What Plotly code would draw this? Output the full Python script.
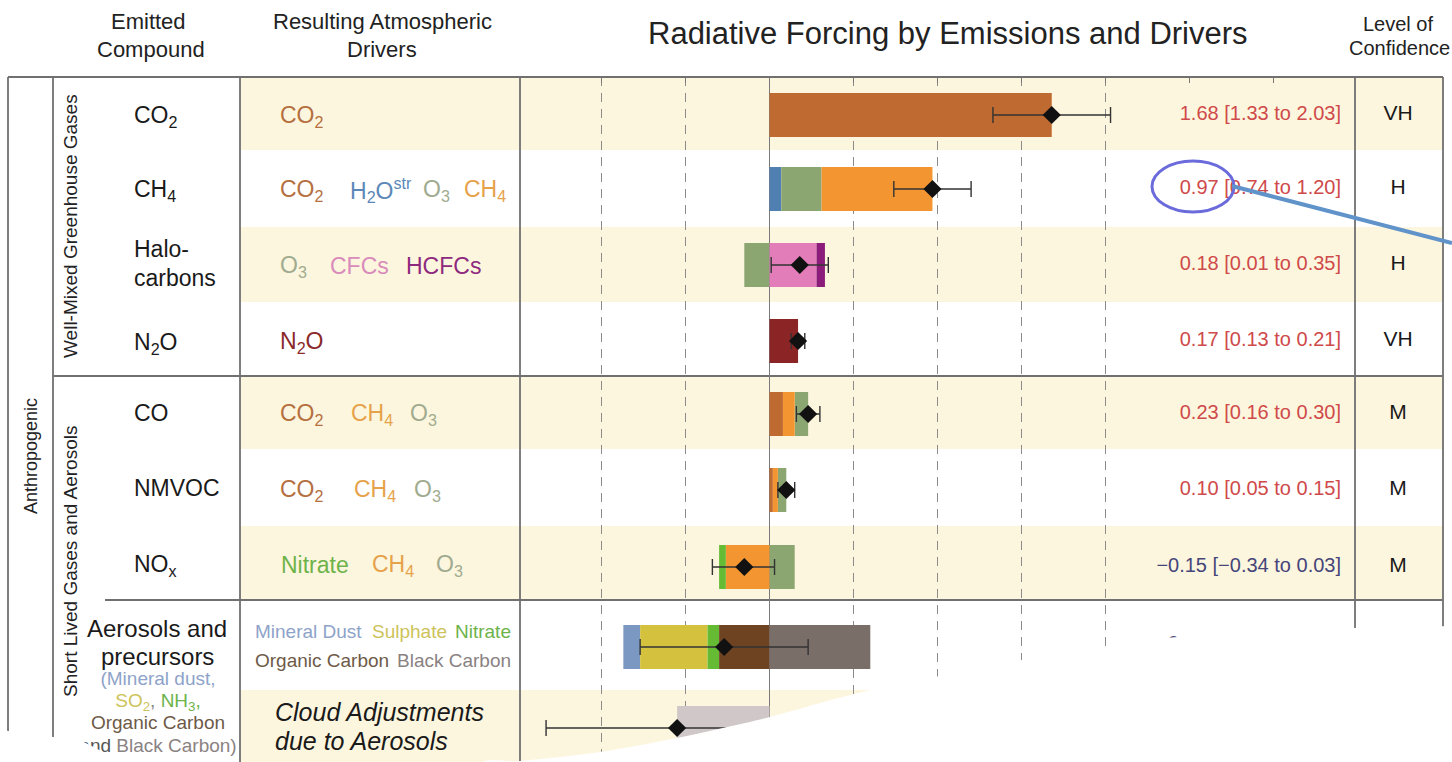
import plotly.graph_objects as go

W, H = 1452, 762
FONT = "Liberation Sans, Arial, sans-serif"

# ---------------- data ----------------
compounds = ["CO2", "CH4", "Halocarbons", "N2O", "CO", "NMVOC", "NOx", "Aerosols", "Cloud"]
best = [1.68, 0.97, 0.18, 0.17, 0.23, 0.10, -0.15, -0.27, -0.55]
low = [1.33, 0.74, 0.01, 0.13, 0.16, 0.05, -0.34, -0.77, -1.33]
high = [2.03, 1.20, 0.35, 0.21, 0.30, 0.15, 0.03, 0.23, -0.06]
confidence = ["VH", "H", "H", "VH", "M", "M", "M", "H", "L"]

# forcing contribution of each resulting driver, per emitted compound (W m-2)
drv_co2 = [1.68, 0.00, 0.00, 0.00, 0.08, 0.02, 0.00, 0.00, 0.00]
drv_h2o = [0.00, 0.07, 0.00, 0.00, 0.00, 0.00, 0.00, 0.00, 0.00]
drv_o3 = [0.00, 0.24, -0.15, 0.00, 0.08, 0.05, 0.15, 0.00, 0.00]
drv_ch4 = [0.00, 0.66, 0.00, 0.00, 0.07, 0.03, -0.26, 0.00, 0.00]
drv_cfc = [0.00, 0.00, 0.28, 0.00, 0.00, 0.00, 0.00, 0.00, 0.00]
drv_hcfc = [0.00, 0.00, 0.05, 0.00, 0.00, 0.00, 0.00, 0.00, 0.00]
drv_n2o = [0.00, 0.00, 0.00, 0.17, 0.00, 0.00, 0.00, 0.00, 0.00]
drv_nitrate = [0.00, 0.00, 0.00, 0.00, 0.00, 0.00, -0.04, -0.07, 0.00]
drv_dust = [0.00, 0.00, 0.00, 0.00, 0.00, 0.00, 0.00, -0.10, 0.00]
drv_sulphate = [0.00, 0.00, 0.00, 0.00, 0.00, 0.00, 0.00, -0.40, 0.00]
drv_oc = [0.00, 0.00, 0.00, 0.00, 0.00, 0.00, 0.00, -0.30, 0.00]
drv_bc = [0.00, 0.00, 0.00, 0.00, 0.00, 0.00, 0.00, 0.60, 0.00]
drv_cloud = [0.00, 0.00, 0.00, 0.00, 0.00, 0.00, 0.00, 0.00, -0.55]

contrib = {
    "co2": drv_co2, "h2o": drv_h2o, "o3": drv_o3, "ch4": drv_ch4,
    "cfc": drv_cfc, "hcfc": drv_hcfc, "n2o": drv_n2o, "nitrate": drv_nitrate,
    "dust": drv_dust, "sulphate": drv_sulphate, "oc": drv_oc, "bc": drv_bc,
    "cloud": drv_cloud,
}

# ---------------- styling / layout ----------------
bar_colors = {
    "co2": "#bf6a30", "h2o": "#5080b2", "o3": "#8ca672", "ch4": "#f39632",
    "cfc": "#e27db9", "hcfc": "#8b1c7c", "n2o": "#8b2424", "nitrate": "#66bb35",
    "dust": "#7b98c2", "sulphate": "#d4c23f", "oc": "#6e4322", "bc": "#7a6e68",
    "cloud": "#d0c8c8",
}
# stacking order, from the zero line outward, for every row
stack_order = [
    ["co2"],
    ["co2", "h2o", "o3", "ch4"],
    ["o3", "cfc", "hcfc"],
    ["n2o"],
    ["co2", "ch4", "o3"],
    ["co2", "ch4", "o3"],
    ["ch4", "nitrate", "o3"],
    ["oc", "nitrate", "sulphate", "dust", "bc"],
    ["cloud"],
]
row_px = [115, 189, 265, 341, 414, 490, 567, 647, 728]   # row centres (pixels)
BAR_H = 44

# x scale: zero at 769.5 px, 168 px per W m-2
X0, KX = 769.5, 168.0
PLOT_L, PLOT_R, TABLE_TOP = 520, 1355, 77


def px(x):
    return x / W


def py(y):
    return 1 - y / H


# stacked bar bases
bases = {k: [None] * len(compounds) for k in contrib}
for i, order in enumerate(stack_order):
    pos, neg = 0.0, 0.0
    for d in order:
        v = contrib[d][i]
        if v >= 0:
            bases[d][i] = pos
            pos += v
        else:
            bases[d][i] = neg
            neg += v

fig = go.Figure()

for d, vals in contrib.items():
    xs, ys, bs = [], [], []
    for i, v in enumerate(vals):
        if v != 0:
            xs.append(v)
            ys.append(row_px[i])
            bs.append(bases[d][i])
    fig.add_trace(go.Bar(
        x=xs, y=ys, base=bs, orientation="h", width=BAR_H,
        marker=dict(color=bar_colors[d], line=dict(width=0)),
        hoverinfo="skip", showlegend=False,
    ))

# best estimate and uncertainty range
fig.add_trace(go.Scatter(
    x=best, y=row_px, mode="markers",
    marker=dict(symbol="diamond", size=14, color="#111111"),
    error_x=dict(type="data", symmetric=False,
                 array=[h - b for h, b in zip(high, best)],
                 arrayminus=[b - l for b, l in zip(best, low)],
                 color="#333333", thickness=1.4, width=8),
    hoverinfo="skip", showlegend=False,
))

# ---------------- right-hand text columns (overlay axes in pixels) ----------------
def fmt(v):
    s = f"{v:.2f}"
    return s.replace("-", "\u2212")


val_text = [f"{fmt(b)} [{fmt(l)} to {fmt(h)}]" for b, l, h in zip(best, low, high)]
val_color = ["#cf4a4a" if b > 0 else "#45457a" for b in best]

fig.add_trace(go.Scatter(
    x=[1341] * len(val_text), y=[115, 189, 265, 341, 414, 490, 567, 645, 728],
    mode="text", text=val_text,
    textposition="middle left",
    textfont=dict(family=FONT, size=20, color=val_color),
    xaxis="x2", yaxis="y2", hoverinfo="skip", showlegend=False,
))
fig.add_trace(go.Scatter(
    x=[1398] * len(confidence), y=row_px, mode="text", text=confidence,
    textposition="middle center",
    textfont=dict(family=FONT, size=21, color="#1a1a1a"),
    xaxis="x2", yaxis="y2", hoverinfo="skip", showlegend=False,
))

precursor_lines = [
    '<span style="color:#8ea3c9">(Mineral dust,</span>',
    '<span style="color:#cdc35a">SO<sub>2</sub></span><span style="color:#888">, </span>'
    '<span style="color:#6db34a">NH<sub>3</sub>,</span>',
    '<span style="color:#6e5a48">Organic Carbon</span>',
    '<span style="color:#555">and </span><span style="color:#8a8282">Black Carbon)</span>',
]
fig.add_trace(go.Scatter(
    x=[158] * 4, y=[680, 702, 724, 747], mode="text", text=precursor_lines,
    textposition="middle center",
    textfont=dict(family=FONT, size=19, color="#555"),
    xaxis="x2", yaxis="y2", hoverinfo="skip", showlegend=False,
))

# folded-away page corners
curl_right = [(480, 800), (480, 764), (520, 761), (600, 752), (677, 738), (727, 727),
              (770, 717), (854, 694), (935, 677), (1022, 660), (1105, 647),
              (1167, 638), (1260, 631), (1353, 628), (1452, 626), (1500, 626),
              (1500, 800)]
curl_left = [(-20, 800), (-20, 723), (8, 731), (53, 737), (78, 739), (92, 746),
             (105, 753), (116, 762), (120, 800)]
for poly, shape in ((curl_right, "spline"), (curl_left, "linear")):
    fig.add_trace(go.Scatter(
        x=[p[0] for p in poly], y=[p[1] for p in poly], mode="lines",
        fill="toself", fillcolor="#ffffff",
        line=dict(width=0, color="#ffffff", shape=shape),
        xaxis="x2", yaxis="y2", hoverinfo="skip", showlegend=False,
    ))

# ---------------- table background and rules ----------------
shapes = []
for y0, y1 in [(77, 150), (227, 302), (376, 449), (526, 600), (690, 770)]:
    shapes.append(dict(type="rect", xref="paper", yref="paper", layer="below",
                       x0=px(240), x1=px(1443), y0=py(y1), y1=py(y0),
                       fillcolor="#fdf6de", line=dict(width=0)))

RULE = dict(color="#707070", width=1.8)
for x0, x1, y in [(8, 1443, 77), (53, 1443, 376), (105, 1443, 600)]:
    shapes.append(dict(type="line", xref="paper", yref="paper", layer="below",
                       x0=px(x0), x1=px(x1), y0=py(y), y1=py(y), line=RULE))
for x in [8, 53, 240, 520, 1355, 1443]:
    shapes.append(dict(type="line", xref="paper", yref="paper", layer="below",
                       x0=px(x), x1=px(x), y0=py(77), y1=py(770), line=RULE))

# highlight ring and pointer
shapes.append(dict(type="circle", xref="paper", yref="paper", layer="above",
                   x0=px(1152), x1=px(1234), y0=py(212), y1=py(161),
                   line=dict(color="#6b6bdc", width=3)))
shapes.append(dict(type="line", xref="paper", yref="paper", layer="above",
                   x0=px(1232), y0=py(186), x1=px(1452), y1=py(243),
                   line=dict(color="#5f93c9", width=4)))

# ---------------- annotations ----------------
ann = []


def label(text, x, y, size, color="#1a1a1a", xanchor="left", angle=0):
    ann.append(dict(text=text, x=px(x), y=py(y), xref="paper", yref="paper",
                    xanchor=xanchor, yanchor="middle", showarrow=False,
                    textangle=angle, font=dict(family=FONT, size=size, color=color)))


label("Radiative Forcing by Emissions and Drivers", 948, 34, 31, "#222", "center")
label("Emitted", 148, 22, 22, "#222", "center")
label("Compound", 151, 49, 22, "#222", "center")
label("Resulting Atmospheric", 382, 22, 22, "#222", "center")
label("Drivers", 382, 49, 22, "#222", "center")
label("Level of", 1398, 24, 20, "#222", "center")
label("Confidence", 1399, 48, 20, "#222", "center")

label("Anthropogenic", 31, 456, 18, "#222", "center", -90)
label("Well-Mixed Greenhouse Gases", 70, 226, 19, "#222", "center", -90)
label("Short Lived Gases and Aerosols", 70, 562, 19, "#222", "center", -90)

label("CO<sub>2</sub>", 132, 117, 23)
label("CH<sub>4</sub>", 132, 190, 23)
label("Halo-", 132, 249, 23)
label("carbons", 132, 278, 23)
label("N<sub>2</sub>O", 132, 343, 23)
label("CO", 132, 413, 23)
label("NMVOC", 132, 488, 23)
label("NO<sub>x</sub>", 132, 565, 23)
label("Aerosols and", 157, 628, 24, "#1a1a1a", "center")
label("precursors", 157, 656, 24, "#1a1a1a", "center")

C_CO2, C_H2O, C_O3, C_CH4 = "#b5703f", "#5b88b8", "#a0ab8f", "#e6a24a"
C_CFC, C_HCFC, C_N2O, C_NIT = "#d98bbb", "#8e2a7e", "#8a2a2a", "#6db34a"
CO2_T, CH4_T, O3_T = "CO<sub>2</sub>", "CH<sub>4</sub>", "O<sub>3</sub>"

driver_words = [
    (117, [(CO2_T, C_CO2, 278)]),
    (190, [(CO2_T, C_CO2, 278), ("H<sub>2</sub>O<sup>str</sup>", C_H2O, 348),
           (O3_T, C_O3, 421), (CH4_T, C_CH4, 462)]),
    (266, [(O3_T, C_O3, 278), ("CFCs", C_CFC, 328), ("HCFCs", C_HCFC, 404)]),
    (342, [("N<sub>2</sub>O", C_N2O, 278)]),
    (415, [(CO2_T, C_CO2, 278), (CH4_T, C_CH4, 349), (O3_T, C_O3, 408)]),
    (490, [(CO2_T, C_CO2, 278), (CH4_T, C_CH4, 352), (O3_T, C_O3, 412)]),
    (565, [("Nitrate", C_NIT, 279), (CH4_T, C_CH4, 370), (O3_T, C_O3, 434)]),
    (631, [("Mineral Dust", "#8ea3c9", 253), ("Sulphate", "#cdc35a", 370),
           ("Nitrate", C_NIT, 453)]),
    (660, [("Organic Carbon", "#6e5a48", 253), ("Black Carbon", "#8a8282", 395)]),
]
for y, words in driver_words:
    size = 19 if y in (631, 660) else 23
    for text, color, x in words:
        label(text, x, y, size, color)

label("<i>Cloud Adjustments</i>", 273, 712, 25, "#1a1a1a")
label("<i>due to Aerosols</i>", 273, 741, 25, "#1a1a1a")

fig.update_layout(
    width=W, height=H,
    margin=dict(l=0, r=0, t=0, b=0),
    paper_bgcolor="#ffffff", plot_bgcolor="rgba(0,0,0,0)",
    barmode="overlay", showlegend=False,
    font=dict(family=FONT, size=18, color="#1a1a1a"),
    shapes=shapes, annotations=ann,
    xaxis=dict(
        domain=[px(PLOT_L), px(PLOT_R)],
        range=[(PLOT_L - X0) / KX, (PLOT_R - X0) / KX],
        side="top", tickvals=[-1, -0.5, 0, 0.5, 1, 1.5, 2],
        showticklabels=False, ticks="inside", ticklen=6, tickcolor="#777",
        minor=dict(tickvals=[2.5, 3.0], ticks="inside", ticklen=6,
                   tickcolor="#777", showgrid=False),
        showgrid=True, gridcolor="#8c8c8c", gridwidth=1.4, griddash="9px,7px",
        zeroline=True, zerolinecolor="#7a7a7a", zerolinewidth=1.4,
        showline=False, fixedrange=True,
    ),
    yaxis=dict(
        domain=[0, (H - TABLE_TOP) / H], range=[H, TABLE_TOP],
        showgrid=False, zeroline=False, showticklabels=False, ticks="",
        showline=False, fixedrange=True,
    ),
    xaxis2=dict(domain=[0, 1], range=[0, W], anchor="y2", visible=False,
                fixedrange=True),
    yaxis2=dict(domain=[0, 1], range=[H, 0], anchor="x2", visible=False,
                fixedrange=True),
)

fig.write_html("out.html")
